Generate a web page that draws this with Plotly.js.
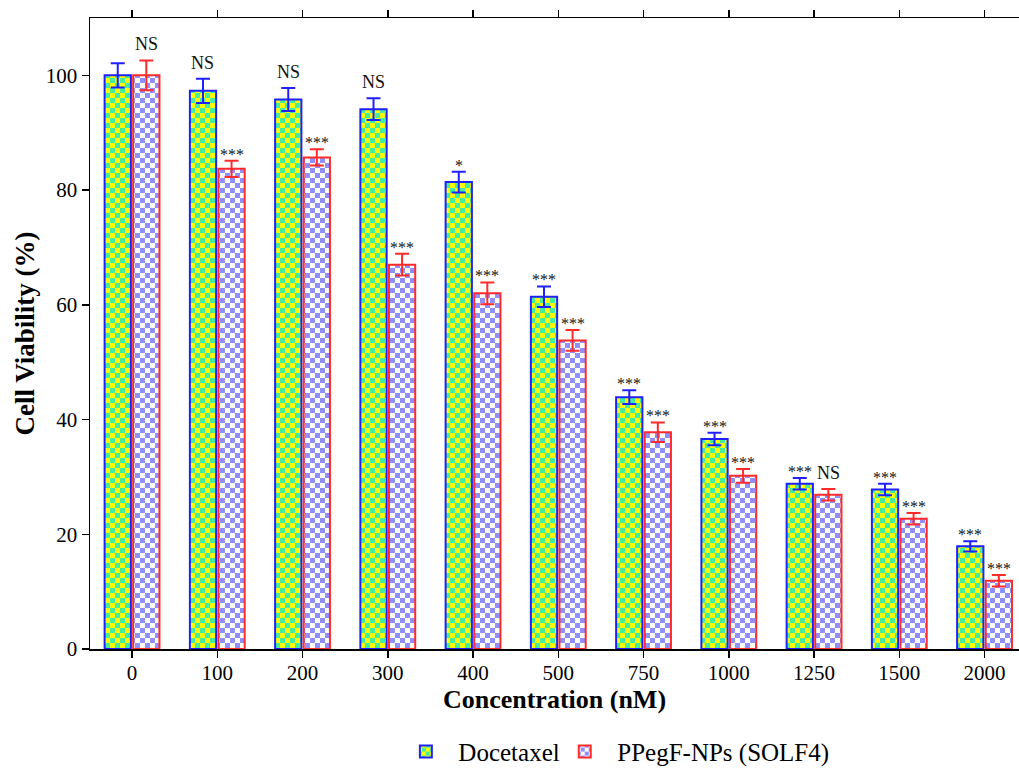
<!DOCTYPE html>
<html>
<head>
<meta charset="utf-8">
<script src="https://cdn.plot.ly/plotly-3.0.1.min.js"></script>
<style>
  html, body { margin: 0; padding: 0; background: #ffffff; }
  #chart { width: 1019px; height: 769px; }
</style>
</head>
<body>
<div id="chart"></div>
<script>
// ---- data ----
const categories = ['0', '100', '200', '300', '400', '500', '750', '1000', '1250', '1500', '2000'];
const docetaxel   = [100, 97.3, 95.8, 94.1, 81.4, 61.4, 43.9, 36.6, 28.8, 27.8, 17.9];
const docetaxelSD = [2.1, 2.1, 2.0, 1.9, 1.8, 1.8, 1.2, 1.1, 1.0, 1.0, 0.9];
const ppegf       = [100, 83.7, 85.7, 67.0, 62.0, 53.8, 37.8, 30.2, 26.9, 22.7, 11.9];
const ppegfSD     = [2.6, 1.4, 1.4, 1.9, 1.9, 1.8, 1.7, 1.2, 1.0, 1.0, 1.0];
const docetaxelSig = ['', 'NS', 'NS', 'NS', '*', '***', '***', '***', '***', '***', '***'];
const ppegfSig     = ['NS', '***', '***', '***', '***', '***', '***', '***', 'NS', '***', '***'];
const seriesNames = ['Docetaxel', 'PPegF-NPs (SOLF4)'];
const yTicks = [0, 20, 40, 60, 80, 100];

const FONT = 'Liberation Serif, Times New Roman, Times, serif';
const BLUE = '#1f1fff';
const RED = '#ff2b2b';
const NB = '\u00a0\u00a0';

const traces = [
  {
    type: 'bar', name: NB + seriesNames[0], uid: 'doce',
    x: categories, y: docetaxel,
    error_y: { type: 'data', array: docetaxelSD, visible: true, color: BLUE, thickness: 2, width: 7 },
    marker: { color: '#ffff00', line: { color: BLUE, width: 2 },
              pattern: { shape: '+', size: 10, fgcolor: '#44ee9c', bgcolor: '#ffff00', solidity: 0.5 } }
  },
  {
    type: 'bar', name: NB + seriesNames[1], uid: 'ppeg',
    x: categories, y: ppegf,
    error_y: { type: 'data', array: ppegfSD, visible: true, color: RED, thickness: 2, width: 7 },
    marker: { color: '#ffffff', line: { color: RED, width: 2 },
              pattern: { shape: '+', size: 10, fgcolor: '#8f8fff', bgcolor: '#ffffff', solidity: 0.5 } }
  }
];

function sigAnn(labels, vals, sds, shift) {
  return labels.map((t, i) => t === '' ? null : {
    x: i, y: vals[i] + sds[i], xref: 'x', yref: 'y',
    text: t, showarrow: false, xshift: shift,
    yanchor: 'bottom', yshift: t === 'NS' ? 4 : -4,
    font: { family: FONT, size: t === 'NS' ? 18 : 16, color: '#111' }
  }).filter(a => a);
}

const annotations = sigAnn(docetaxelSig, docetaxel, docetaxelSD, -14.3)
  .concat(sigAnn(ppegfSig, ppegf, ppegfSD, 14.3));

const layout = {
  width: 1019, height: 769,
  margin: { l: 90, r: 0, t: 18, b: 120, pad: 0, autoexpand: false },
  paper_bgcolor: '#ffffff', plot_bgcolor: '#ffffff',
  font: { family: FONT, color: '#000' },
  barmode: 'group', bargap: 0.33, bargroupgap: 0.08,
  showlegend: true,
  legend: {
    orientation: 'h', x: 0.34, xanchor: 'left', y: -0.163, yanchor: 'middle',
    font: { family: FONT, size: 25, color: '#000' },
    bgcolor: 'rgba(0,0,0,0)', itemwidth: 30
  },
  xaxis: {
    type: 'category', range: [-0.493, 10.404],
    showline: true, linecolor: '#000', linewidth: 1.5, mirror: 'ticks',
    ticks: 'outside', ticklen: 7, tickwidth: 1.5, tickcolor: '#000',
    ticklabelstandoff: -3,
    tickfont: { family: FONT, size: 21, color: '#000' },
    showgrid: false, zeroline: false,
    title: { text: 'Concentration (nM)', standoff: 0,
             font: { family: FONT, size: 26, weight: 'bold', color: '#000' } }
  },
  yaxis: {
    range: [0, 110], tickvals: yTicks, ticktext: yTicks.map(String),
    showline: true, linecolor: '#000', linewidth: 1.5,
    ticks: 'outside', ticklen: 7, tickwidth: 1.5, tickcolor: '#000',
    tickfont: { family: FONT, size: 21, color: '#000' },
    showgrid: false, zeroline: false,
    title: { text: 'Cell Viability (%)', standoff: 3,
             font: { family: FONT, size: 27, weight: 'bold', color: '#000' } }
  },
  annotations: annotations
};

function applyChecker(gd) {
  gd.querySelectorAll('pattern').forEach(p => {
    const id = p.id || '';
    let c1, c2;
    if (id.indexOf('doce') >= 0) { c1 = '#ffff00'; c2 = '#44ee9c'; }
    else if (id.indexOf('ppeg') >= 0) { c1 = '#ffffff'; c2 = '#8f8fff'; }
    else return;
    p.setAttribute('width', '10');
    p.setAttribute('height', '10');
    p.innerHTML = '<rect x="0" y="0" width="10" height="10" fill="' + c1 + '"/>' +
                  '<rect x="0" y="0" width="5" height="5" fill="' + c2 + '"/>' +
                  '<rect x="5" y="5" width="5" height="5" fill="' + c2 + '"/>';
  });
}

const gd = document.getElementById('chart');
Plotly.newPlot(gd, traces, layout, { staticPlot: true, displayModeBar: false })
  .then(() => applyChecker(gd));
</script>
</body>
</html>
